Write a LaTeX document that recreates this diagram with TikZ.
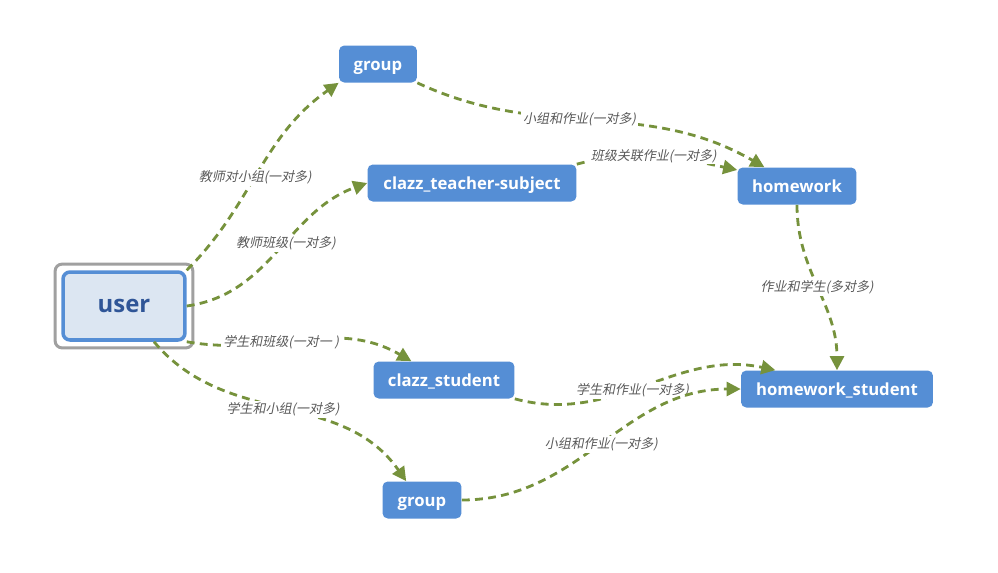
\documentclass[tikz,border=0pt]{standalone}
\usepackage{fontspec}
\setmainfont{Open Sans}
\newfontfamily\cjk{Noto Sans CJK SC}[FakeSlant=0.2]
\usepackage{xcolor}
\usepackage{tikz}
\usetikzlibrary{arrows.meta,fit}
\definecolor{boxblue}{HTML}{558ED5}
\definecolor{linkgreen}{HTML}{76923C}
\definecolor{userfill}{HTML}{DCE6F2}
\definecolor{userblue}{HTML}{2F5597}
\definecolor{framegray}{HTML}{A0A0A0}
\definecolor{labelgray}{HTML}{595959}

\begin{document}
\begin{tikzpicture}[x=0.02cm,y=0.02cm,
  table/.style={rectangle, rounded corners=3pt, fill=boxblue, text=white,
    font=\bfseries\fontsize{9.5}{11}\selectfont, minimum height=0.74cm, inner sep=0pt,
    text height=1.3ex, text depth=0pt},
  link/.style={draw=linkgreen, line width=1.6pt, dash pattern=on 4.5pt off 3pt,
    -{Triangle[length=2.8mm,width=2.8mm]}},
  rel/.style={font=\cjk\fontsize{7.4}{9}\selectfont, text=labelgray, fill=white, inner sep=1pt}]
  \useasboundingbox (0,0) rectangle (998,-572);
  % user table
  \node[rectangle, rounded corners=4pt, draw=boxblue, line width=2pt, fill=userfill,
    text=userblue, font=\bfseries\fontsize{13.6}{16}\selectfont,
    minimum width=2.44cm, minimum height=1.36cm] (user) at (124,-306) {user};
  \node[rectangle, rounded corners=4pt, draw=framegray, line width=1.7pt,
    fit=(user), inner sep=3.5pt] (userframe) {};
  % other tables
  \node[table, minimum width=1.56cm] (grouptop) at (378,-64) {group};
  \node[table, minimum width=4.18cm] (cts) at (472,-183) {clazz\_teacher-subject};
  \node[table, minimum width=2.38cm] (hw) at (797,-186) {homework};
  \node[table, minimum width=2.82cm] (cstu) at (444,-380) {clazz\_student};
  \node[table, minimum width=3.84cm] (hws) at (837,-389) {homework\_student};
  \node[table, minimum width=1.58cm] (groupbot) at (422,-500) {group};
  % relations
  \draw[link] (user.north east) to[out=45,in=-145]
    node[rel, pos=0.47] {教师对小组(一对多)} (grouptop.south west);
  \draw[link] (user.east) to[out=8,in=-160]
    node[rel, pos=0.55] {教师班级(一对多)} (cts.west);
  \draw[link] (grouptop.south east) to[out=-25,in=150]
    node[rel, pos=0.46] {小组和作业(一对多)} (hw.150);
  \draw[link] (cts.north east) to[out=15,in=168]
    node[rel, pos=0.48] {班级关联作业(一对多)} (hw.165);
  \draw[link] (hw.south) to[out=-90,in=90]
    node[rel, pos=0.5] {作业和学生(多对多)} (hws.north);
  \draw[link] (user.south east) to[out=-10,in=150]
    node[rel, pos=0.4] {学生和班级(一对一 )} (cstu.150);
  \draw[link] (user.-50) to[out=-50,in=125]
    node[rel, pos=0.5] {学生和小组(一对多)} (groupbot.130);
  \draw[link] (cstu.south east) to[out=-15,in=168]
    node[rel, pos=0.45] {学生和作业(一对多)} (hws.163);
  \draw[link] (groupbot.east) to[out=0,in=180]
    node[rel, pos=0.5] {小组和作业(一对多)} (hws.west);
\end{tikzpicture}
\end{document}
